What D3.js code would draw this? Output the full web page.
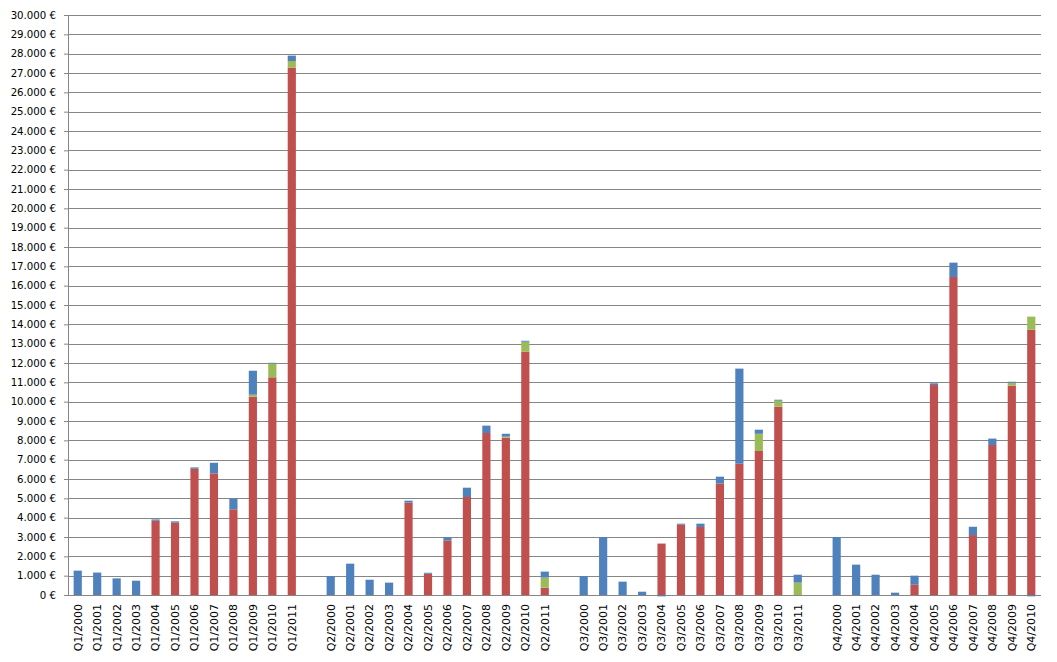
<!DOCTYPE html>
<html>
<head>
<meta charset="utf-8">
<script src="https://cdn.jsdelivr.net/npm/d3@7/dist/d3.min.js"></script>
<style>
  html, body { margin: 0; padding: 0; background: #fff; }
  svg { display: block; }
</style>
</head>
<body>
<svg id="chart" width="1057" height="662"></svg>
<script>
// ---- Data ----
const quarters = ["Q1", "Q2", "Q3", "Q4"];
const categories = [
  "Q1/2000","Q1/2001","Q1/2002","Q1/2003","Q1/2004","Q1/2005","Q1/2006","Q1/2007","Q1/2008","Q1/2009","Q1/2010","Q1/2011",
  "Q2/2000","Q2/2001","Q2/2002","Q2/2003","Q2/2004","Q2/2005","Q2/2006","Q2/2007","Q2/2008","Q2/2009","Q2/2010","Q2/2011",
  "Q3/2000","Q3/2001","Q3/2002","Q3/2003","Q3/2004","Q3/2005","Q3/2006","Q3/2007","Q3/2008","Q3/2009","Q3/2010","Q3/2011",
  "Q4/2000","Q4/2001","Q4/2002","Q4/2003","Q4/2004","Q4/2005","Q4/2006","Q4/2007","Q4/2008","Q4/2009","Q4/2010"
];
// bottom series (red)
const seriesRed = [
  0,0,0,0,3840,3740,6530,6290,4430,10260,11260,27280,
  0,0,0,0,4780,1100,2810,5070,8380,8140,12590,380,
  0,0,0,0,2660,3640,3520,5760,6790,7450,9740,0,
  0,0,0,0,530,10860,16450,3100,7760,10830,13720
];
// middle series (green)
const seriesGreen = [
  0,0,0,0,0,0,0,0,0,100,720,340,
  0,0,0,0,0,0,0,0,0,50,510,520,
  0,0,0,0,0,0,0,0,0,890,310,640,
  0,0,0,0,0,0,0,0,0,150,680
];
// top series (blue)
const seriesBlue = [
  1260,1160,860,740,70,70,70,550,550,1240,30,280,
  980,1620,790,640,100,50,170,480,380,150,50,310,
  980,3000,690,170,-70,50,170,360,4920,210,50,410,
  3000,1570,1050,120,470,90,740,430,330,50,-70
];
const seriesKeys = ["red", "green", "blue"];
const seriesColors = { red: "#C0504D", green: "#9BBB59", blue: "#4F81BD" };
const yTicks = d3.range(0, 30001, 1000);

// ---- Layout ----
const svg = d3.select("#chart");
const margin = { left: 68, right: 16, top: 15, bottom: 67 };
const W = 1057, H = 662;
const x0 = margin.left, x1 = W - margin.right;
const yTop = margin.top, yBot = H - margin.bottom;

// domain with a blank slot after each quarter group (except the last)
const domain = [];
quarters.forEach((q, i) => {
  categories.filter(c => c.startsWith(q)).forEach(c => domain.push(c));
  if (i < quarters.length - 1) domain.push("__gap" + i);
});

const x = d3.scaleBand().domain(domain).range([x0, x1]).paddingInner(0.58).paddingOuter(0.29);
const y = d3.scaleLinear().domain([0, 30000]).range([yBot, yTop]);

const rows = categories.map((c, i) => ({ cat: c, red: seriesRed[i], green: seriesGreen[i], blue: seriesBlue[i] }));
const stacked = d3.stack().keys(seriesKeys).offset(d3.stackOffsetDiverging)(rows);

const fmt = v => d3.format(",")(v).replace(/,/g, ".") + " €";

// gridlines + y axis
const yAxis = d3.axisLeft(y).tickValues(yTicks).tickFormat(fmt).tickSize(4).tickPadding(8);
const gy = svg.append("g").attr("transform", `translate(${x0},0)`).call(yAxis);
gy.select(".domain").attr("stroke", "#868686").attr("d", `M0.5,${yTop}V${yBot + 0.5}`);
gy.selectAll(".tick line").attr("stroke", "#868686").attr("x1", 0.5).attr("x2", -4);
gy.selectAll(".tick text").attr("font-family", "DejaVu Sans, sans-serif").attr("font-size", "10.2px").attr("fill", "#000");

svg.append("g").selectAll("line").data(yTicks).join("line")
  .attr("x1", x0).attr("x2", x1)
  .attr("y1", d => Math.round(y(d)) + 0.5).attr("y2", d => Math.round(y(d)) + 0.5)
  .attr("stroke", "#868686").attr("stroke-width", 1);

// bars
svg.append("g").selectAll("g").data(stacked).join("g")
  .attr("fill", d => seriesColors[d.key])
  .selectAll("rect").data(d => d).join("rect")
  .attr("x", d => x(d.data.cat))
  .attr("width", x.bandwidth())
  .attr("y", d => y(Math.max(d[0], d[1])))
  .attr("height", d => Math.abs(y(d[0]) - y(d[1])));

// x labels
const xAxis = d3.axisBottom(x).tickSize(0).tickPadding(0).tickFormat(d => d.startsWith("__gap") ? "" : d);
const gx = svg.append("g").attr("transform", `translate(0,${yBot})`).call(xAxis);
gx.select(".domain").remove();
gx.selectAll(".tick text")
  .attr("font-family", "DejaVu Sans, sans-serif").attr("font-size", "11px").attr("fill", "#000")
  .attr("text-anchor", "end")
  .attr("dy", "0.35em")
  .attr("transform", "translate(0,9) rotate(-90)")
  .attr("x", 0).attr("y", 0);
</script>
</body>
</html>
